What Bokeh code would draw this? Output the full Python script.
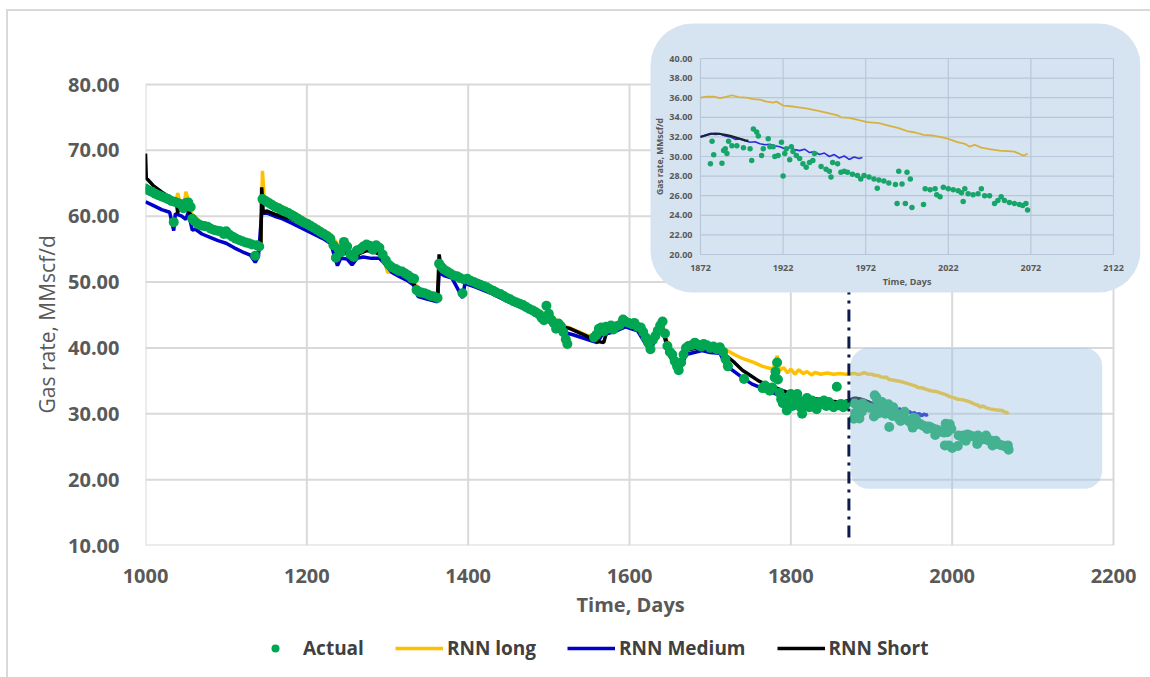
import math
from bokeh.plotting import figure
from bokeh.layouts import column
from bokeh.models import Range1d, FixedTicker, NumeralTickFormatter, Legend, LegendItem, Title
from bokeh.core.properties import value
from bokeh.embed import file_html
from bokeh.resources import INLINE

# ---------------- data ----------------
x_ticks = [1000, 1200, 1400, 1600, 1800, 2000, 2200]
y_ticks = [10, 20, 30, 40, 50, 60, 70, 80]
inset_x_ticks = [1872, 1922, 1972, 2022, 2072, 2122]
inset_y_ticks = [20, 22, 24, 26, 28, 30, 32, 34, 36, 38, 40]
forecast_start = 1872
series_names = ["Actual", "RNN long", "RNN Medium", "RNN Short"]

actual_day_hist = [
    1000, 1004, 1008, 1012, 1016, 1020, 1024, 1028, 1032, 1035, 1036, 1040, 1044, 1047, 1050, 1053, 1056, 1058,
    1061, 1065, 1069, 1073, 1077, 1081, 1085, 1089, 1093, 1097, 1100, 1104, 1108, 1112, 1116, 1120, 1124, 1128,
    1132, 1136, 1138, 1141,
    1145, 1149, 1153, 1157, 1161, 1165, 1169, 1173, 1177, 1181, 1185, 1189, 1193, 1197, 1201, 1205, 1209, 1213,
    1217, 1221, 1225, 1229, 1233, 1236, 1239, 1242, 1246, 1250, 1254, 1258, 1262, 1266, 1270, 1274, 1278, 1282,
    1286, 1290, 1294, 1298, 1302, 1306, 1310, 1314, 1318, 1322, 1326, 1330, 1333, 1336, 1339, 1342, 1346, 1350,
    1354, 1358, 1362,
    1364, 1367, 1370, 1374, 1378, 1382, 1386, 1390, 1393, 1395, 1399, 1403, 1407, 1411, 1415, 1419, 1423, 1427,
    1431, 1435, 1440, 1444, 1448, 1452, 1456, 1460, 1464, 1468, 1472, 1476, 1480, 1484, 1488, 1491, 1494, 1497,
    1500, 1503, 1506, 1509, 1512, 1515, 1518, 1521, 1523,
    1556, 1559, 1562, 1565, 1568, 1571, 1574, 1577, 1580, 1584, 1588, 1592, 1595, 1599, 1603, 1606, 1610, 1614,
    1617, 1620, 1623, 1626, 1629, 1632, 1635, 1638, 1641, 1644, 1647, 1650, 1653, 1656, 1659, 1661, 1664, 1667,
    1670, 1673, 1677, 1681, 1685, 1689, 1692, 1696, 1700, 1704, 1708, 1712, 1716, 1719, 1722,
    1742,
    1765, 1768, 1771, 1774, 1777, 1780, 1781, 1783, 1784, 1786, 1788, 1790, 1792, 1795, 1797, 1800, 1802, 1804,
    1806, 1808, 1810, 1812, 1814, 1816, 1818, 1820, 1823, 1826, 1829, 1832, 1835, 1838, 1841, 1844, 1847, 1850,
    1853, 1857, 1859, 1862, 1865, 1868,
]
actual_rate_hist = [
    64.2, 63.9, 63.7, 63.4, 63.2, 63.0, 62.8, 62.6, 62.3, 59.1, 62.2, 62.0, 61.8, 61.2, 62.0, 62.1, 61.4, 59.6,
    59.2, 58.8, 58.6, 58.5, 58.4, 58.1, 57.9, 57.8, 57.7, 57.3, 57.7, 57.2, 56.9, 56.6, 56.4, 56.2, 56.0, 55.9,
    55.7, 54.0, 55.6, 55.4,
    62.6, 62.3, 62.0, 61.7, 61.4, 61.2, 60.9, 60.7, 60.5, 60.2, 59.9, 59.6, 59.3, 59.0, 58.8, 58.5, 58.2, 57.9,
    57.6, 57.3, 57.0, 56.6, 55.6, 53.7, 55.0, 54.5, 56.1, 55.4, 54.2, 53.8, 54.8, 55.0, 55.4, 55.7, 55.5, 54.9,
    55.6, 55.2, 54.2, 53.3, 52.6, 52.2, 52.0, 51.7, 51.6, 51.3, 51.0, 50.6, 50.5, 48.8, 48.5, 48.4, 48.3, 48.1,
    47.9, 47.8, 47.6,
    52.8, 52.3, 51.9, 51.6, 51.3, 51.0, 50.9, 50.6, 48.3, 50.4, 50.5, 50.2, 50.0, 49.8, 49.6, 49.4, 49.2, 48.9,
    48.7, 48.4, 48.2, 47.9, 47.6, 47.4, 47.1, 46.9, 46.7, 46.5, 46.2, 45.9, 45.7, 45.4, 45.1, 44.6, 44.2, 46.4,
    45.2, 44.3, 43.8, 42.9, 43.7, 43.3, 42.4, 41.3, 40.6,
    41.6, 42.0, 42.9, 43.1, 42.5, 43.2, 43.0, 43.4, 42.8, 43.3, 43.5, 44.3, 44.0, 43.8, 43.6, 43.8, 43.2, 43.1,
    42.4, 41.6, 40.8, 39.8, 41.2, 41.8, 42.6, 43.4, 44.0, 42.2, 40.3, 39.4, 39.0, 38.0, 37.2, 36.6, 37.8, 39.0,
    40.0, 40.3, 40.4, 40.8, 40.5, 40.2, 40.6, 40.4, 40.0, 40.2, 39.8, 40.1, 39.4, 38.3, 37.2,
    35.3,
    33.9, 34.3, 33.8, 33.5, 34.0, 35.5, 36.4, 37.8, 35.2, 33.2, 32.2, 31.6, 32.4, 30.5, 31.8, 33.0, 31.2, 32.8,
    31.5, 33.0, 32.0, 31.0, 30.0, 31.8, 31.2, 32.4, 31.0, 32.0, 31.4, 30.7, 31.8, 31.5, 32.0, 31.2, 31.8, 31.4,
    31.0, 34.1, 31.3, 31.5, 31.0, 31.4,
]
actual_day_fcst = [
    1878, 1879, 1880, 1885, 1886, 1887, 1888, 1889, 1891, 1894, 1898, 1902, 1903, 1904, 1906, 1907, 1909, 1910,
    1913, 1914, 1916, 1917, 1919, 1921, 1922, 1923, 1924, 1926, 1927, 1928, 1930, 1932, 1934, 1936, 1938, 1940,
    1941, 1945, 1948, 1950, 1951, 1952, 1955, 1957, 1959, 1961, 1964, 1967, 1969, 1971, 1974, 1977, 1979, 1980,
    1983, 1986, 1990, 1991, 1992, 1994, 1996, 1997, 1999, 2000, 2007, 2008, 2011, 2014, 2015, 2017, 2019, 2022,
    2025, 2028, 2030, 2031, 2032, 2034, 2037, 2040, 2042, 2044, 2047, 2050, 2052, 2054, 2056, 2059, 2062, 2065,
    2067, 2069, 2070,
]
actual_rate_fcst = [
    29.25, 31.56, 30.17, 29.3, 30.6, 30.8, 30.3, 31.56, 31.1, 31.1, 30.9, 30.8, 29.6, 32.8, 32.5, 32.1, 30.1, 30.8,
    31.8, 31.0, 31.0, 30.0, 30.1, 31.46, 28.0, 30.3, 30.8, 29.66, 31.0, 30.5, 30.1, 29.8, 29.25, 28.9, 29.4, 29.6,
    30.3, 28.98, 28.7, 28.5, 27.9, 29.4, 29.25, 28.4, 28.5, 28.4, 28.2, 28.06, 27.7, 28.06, 27.9, 27.7, 26.77, 27.6,
    27.5, 27.3, 27.14, 25.2, 28.5, 27.2, 25.2, 28.4, 27.7, 24.8, 25.1, 26.7, 26.6, 26.7, 26.1, 25.9, 26.87, 26.7,
    26.6, 26.5, 26.3, 25.4, 26.7, 26.2, 26.1, 26.2, 26.7, 26.0, 26.0, 25.2, 25.5, 25.9, 25.5, 25.3, 25.2, 25.1,
    25.0, 25.2, 24.55,
]

long_day = [
    1000, 1010, 1020, 1030, 1038, 1040, 1043, 1048, 1050, 1054, 1058, 1070, 1090, 1110, 1130, 1143, 1145, 1147,
    1160, 1180, 1200, 1220, 1230, 1240, 1256, 1265, 1280, 1294, 1300, 1315, 1330, 1338, 1362, 1364, 1380, 1400,
    1420, 1440, 1460, 1480, 1500, 1520, 1530, 1550, 1562, 1570, 1590, 1610, 1625, 1640, 1650, 1661, 1670, 1690,
    1710, 1721, 1730, 1740, 1754, 1765, 1771, 1778, 1783, 1786, 1791, 1796, 1800, 1805, 1810, 1815, 1820, 1826,
    1830, 1837, 1845, 1853, 1862, 1868,
    1872, 1876, 1880, 1884, 1888, 1891, 1895, 1900, 1904, 1908, 1912, 1916, 1918, 1922, 1928, 1936, 1942, 1950,
    1955, 1957, 1962, 1968, 1973, 1980, 1987, 1992, 1997, 2002, 2007, 2012, 2017, 2022, 2027, 2032, 2035, 2038,
    2042, 2047, 2053, 2058, 2062, 2066, 2068, 2070,
]
long_rate = [
    64.4, 63.9, 63.2, 62.7, 62.3, 63.5, 62.0, 61.8, 63.7, 62.2, 60.2, 59.0, 58.0, 57.0, 56.0, 55.4, 66.9, 63.0,
    62.0, 60.8, 59.4, 57.9, 57.2, 55.4, 54.0, 55.0, 55.2, 54.3, 51.5, 51.8, 50.9, 48.9, 48.0, 51.8, 51.5, 50.5,
    49.6, 48.4, 47.2, 45.9, 45.0, 43.3, 42.8, 41.8, 42.4, 43.1, 43.8, 43.4, 40.4, 43.8, 39.6, 37.4, 40.0, 40.5,
    40.2, 39.6, 39.0, 38.4, 37.8, 37.2, 37.0, 36.8, 38.8, 36.6, 37.0, 36.2, 36.8, 36.0, 36.7, 36.1, 36.4, 35.9,
    36.3, 36.0, 36.2, 36.0, 36.1, 36.0,
    36.0, 36.1, 36.1, 35.95, 36.1, 36.25, 36.05, 36.0, 35.85, 35.8, 35.6, 35.5, 35.6, 35.2, 35.1, 34.9, 34.7, 34.4,
    34.2, 34.0, 33.95, 33.7, 33.5, 33.4, 33.1, 32.9, 32.6, 32.45, 32.2, 32.15, 32.0, 31.8, 31.5, 31.3, 31.0, 31.2,
    30.9, 30.75, 30.6, 30.55, 30.5, 30.2, 30.1, 30.3,
]

medium_day = [
    1000, 1010, 1020, 1030, 1035, 1037, 1045, 1050, 1053, 1058, 1062, 1070, 1080, 1090, 1100, 1110, 1120, 1130,
    1136, 1140, 1144, 1150, 1160, 1170, 1180, 1190, 1200, 1210, 1220, 1230, 1234, 1238, 1242, 1250, 1256, 1262,
    1270, 1280, 1290, 1298, 1305, 1315, 1325, 1332, 1338, 1350, 1362, 1364, 1370, 1380, 1393, 1396, 1410, 1430,
    1450, 1470, 1490, 1500, 1510, 1520, 1530, 1550, 1560, 1566, 1580, 1595, 1610, 1625, 1640, 1650, 1661, 1670,
    1690, 1700, 1712, 1720, 1730, 1742, 1752, 1762, 1772, 1782, 1792, 1800, 1810, 1820, 1830, 1840, 1850, 1860,
    1866,
    1872, 1875, 1878, 1881, 1884, 1887, 1890, 1893, 1896, 1899, 1902, 1905, 1908, 1911, 1914, 1917, 1920, 1923,
    1926, 1929, 1932, 1935, 1938, 1941, 1944, 1947, 1950, 1953, 1956, 1959, 1962, 1965, 1968, 1970,
]
medium_rate = [
    62.2, 61.6, 61.0, 60.6, 57.8, 60.4, 60.0, 59.5, 60.6, 57.9, 58.0, 57.3, 56.8, 56.3, 55.9, 55.2, 54.6, 54.1,
    53.0, 53.9, 60.4, 60.5, 60.0, 59.6, 59.0, 58.4, 57.8, 57.2, 56.6, 55.8, 54.0, 52.5, 53.6, 53.5, 52.6, 53.6,
    53.8, 53.6, 53.6, 52.6, 51.5, 50.8, 50.2, 49.6, 47.8, 47.4, 47.0, 51.5, 51.0, 50.6, 47.6, 49.8, 49.2, 48.2,
    47.0, 45.9, 44.6, 44.4, 43.0, 42.3, 42.0, 41.2, 40.8, 42.0, 42.4, 43.2, 42.6, 39.6, 43.0, 38.8, 36.2, 39.0,
    39.6, 39.3, 39.2, 37.3, 36.4, 35.3, 34.5, 34.0, 33.5, 33.0, 32.5, 32.0, 31.6, 31.4, 31.2, 31.2, 31.3, 31.6,
    31.8,
    32.0, 32.2, 32.35, 32.25, 32.3, 32.1, 32.0, 31.75, 31.8, 31.6, 31.45, 31.5, 31.3, 31.2, 31.25, 31.1, 31.0, 30.8,
    30.95, 30.7, 30.6, 30.75, 30.4, 30.5, 30.2, 30.35, 30.0, 30.2, 29.85, 30.05, 29.7, 29.95, 29.8, 29.9,
]

short_day = [
    1000, 1001, 1010, 1020, 1030, 1038, 1040, 1042, 1050, 1058, 1070, 1090, 1110, 1130, 1140, 1143, 1144, 1146,
    1150, 1160, 1180, 1200, 1220, 1232, 1240, 1250, 1256, 1265, 1275, 1285, 1294, 1300, 1315, 1330, 1338, 1350,
    1362, 1364, 1367, 1380, 1400, 1420, 1440, 1460, 1480, 1500, 1515, 1525, 1545, 1560, 1568, 1572, 1580, 1595,
    1610, 1625, 1640, 1650, 1661, 1670, 1690, 1710, 1720, 1730, 1740, 1750, 1760, 1770, 1780, 1790, 1800, 1810,
    1815, 1820, 1830, 1840, 1850, 1860, 1866,
    1872, 1875, 1878, 1881, 1884, 1887, 1890, 1893, 1896, 1899, 1901,
]
short_rate = [
    69.5, 65.8, 64.6, 63.7, 62.9, 62.4, 60.5, 62.0, 61.5, 59.8, 58.6, 57.6, 56.6, 55.7, 55.2, 55.0, 64.4, 60.5,
    60.8, 60.3, 59.6, 58.5, 57.3, 56.4, 54.2, 54.4, 53.2, 54.3, 54.8, 54.5, 54.0, 52.5, 51.5, 50.3, 48.5, 48.0,
    47.5, 54.2, 51.8, 51.2, 50.0, 49.2, 48.0, 46.8, 45.5, 44.5, 43.2, 43.0, 41.9, 41.0, 40.8, 42.6, 42.8, 43.8,
    43.0, 40.0, 43.4, 39.2, 37.0, 39.6, 40.2, 39.6, 38.8, 37.8, 36.6, 35.8, 35.0, 34.4, 34.0, 33.5, 33.1, 32.8,
    30.4, 32.6, 32.3, 32.1, 31.9, 31.8, 31.8,
    32.0, 32.15, 32.3, 32.35, 32.3, 32.2, 32.1, 31.95, 31.8, 31.65, 31.6,
]

actual_day = actual_day_hist + actual_day_fcst
actual_rate = actual_rate_hist + actual_rate_fcst


def from_start(days, vals):
    pairs = [(d, v) for d, v in zip(days, vals) if d >= forecast_start]
    return [d for d, _ in pairs], [v for _, v in pairs]


# ---------------- styles ----------------
C_ACT, C_LONG, C_MED, C_SHORT = "#00A651", "#FFC000", "#0000CD", "#000000"
LW = 3.5

# ---------------- layout (canvas pixels) ----------------
W, H = 1142, 622
LEG_H = 44
FL, FR, FT, FB = 137, 1132, 11, 534          # plot frame
MX0, MX1, MY_TOP, MY_BOT = 137, 1105, 73, 534  # main plot area (x 1000..2200, y 80..10)
IL, IR, IT, IB = 692, 1105, 47, 243          # inset plot area
INSET_BOX = (642, 1132, 12, 281)             # left, right, top, bottom (px)
HILITE = dict(left=1874, right=2186, bottom=18.6, top=40.0)
DIVIDER_Y = (11.2, 49.0)
LEGEND_POS = (106, 16)                       # from the (aligned) frame's bottom-left

sx = (MX1 - MX0) / (x_ticks[-1] - x_ticks[0])
x_end = x_ticks[0] + (FR - FL) / sx
sy = (MY_BOT - MY_TOP) / (y_ticks[-1] - y_ticks[0])
y_end = y_ticks[0] + (FB - FT) / sy

isx = (IR - IL) / (inset_x_ticks[-1] - inset_x_ticks[0])
ix_start = inset_x_ticks[0] - (IL - FL) / isx
ix_end = ix_start + (FR - FL) / isx
isy = (IB - IT) / (inset_y_ticks[-1] - inset_y_ticks[0])
iy_start = inset_y_ticks[0] - (FB - IB) / isy
iy_end = iy_start + (FB - FT) / isy


def ipx_x(px):
    return ix_start + (px - FL) / isx


def ipx_y(py):
    return iy_start + (FB - py) / isy


p = figure(width=W, height=H,
           x_range=Range1d(x_ticks[0], x_end), y_range=Range1d(y_ticks[0], y_end),
           output_backend="svg", toolbar_location=None,
           min_border_left=FL, min_border_right=W - FR, min_border_top=FT, min_border_bottom=H - FB)
p.extra_x_ranges = {"ix": Range1d(ix_start, ix_end)}
p.extra_y_ranges = {"iy": Range1d(iy_start, iy_end)}

p.xgrid.visible = False
p.ygrid.visible = False
p.outline_line_color = None
p.background_fill_color = "white"
p.border_fill_color = "white"

p.xaxis.ticker = FixedTicker(ticks=x_ticks)
p.yaxis.ticker = FixedTicker(ticks=y_ticks)
p.yaxis.formatter = NumeralTickFormatter(format="0.00")
for ax in (p.xaxis[0], p.yaxis[0]):
    ax.axis_line_color = None
    ax.major_tick_line_color = None
    ax.minor_tick_line_color = None
    ax.major_label_text_font = "Open Sans"
    ax.major_label_text_font_size = "20px"
    ax.major_label_text_font_style = "bold"
    ax.major_label_text_color = "#595959"
p.xaxis.major_label_standoff = 17
p.yaxis.major_label_standoff = 20

# main grid
p.segment(x0=[x_ticks[0]] * len(y_ticks), x1=[x_ticks[-1]] * len(y_ticks), y0=y_ticks, y1=y_ticks,
          line_color="#D9D9D9", line_width=2)
p.segment(x0=x_ticks, x1=x_ticks, y0=[y_ticks[0]] * len(x_ticks), y1=[y_ticks[-1]] * len(x_ticks),
          line_color="#D9D9D9", line_width=2)

# main series
p.line(long_day, long_rate, line_color=C_LONG, line_width=LW)
p.line(medium_day, medium_rate, line_color=C_MED, line_width=LW)
p.line(short_day, short_rate, line_color=C_SHORT, line_width=LW)
p.scatter(actual_day, actual_rate, size=10, fill_color=C_ACT, line_color=None)

# forecast divider
p.line([forecast_start, forecast_start], list(DIVIDER_Y), line_color="#0D1B4C", line_width=3,
       line_dash="12 6 3 6")

# highlight box
p.quad(left=[HILITE["left"]], right=[HILITE["right"]], bottom=[HILITE["bottom"]], top=[HILITE["top"]],
       fill_color="#9DC3E6", fill_alpha=0.43, line_color=None, border_radius=18)

# ---------------- inset ----------------
IN = dict(x_range_name="ix", y_range_name="iy")
bl, br, bt, bb = INSET_BOX
p.quad(left=[ipx_x(bl)], right=[ipx_x(br)], top=[ipx_y(bt)], bottom=[ipx_y(bb)],
       fill_color="#D6E4F2", line_color=None, border_radius=42, **IN)
p.segment(x0=[inset_x_ticks[0]] * len(inset_y_ticks), x1=[inset_x_ticks[-1]] * len(inset_y_ticks),
          y0=inset_y_ticks, y1=inset_y_ticks, line_color="#B7C7D9", line_width=1.2, **IN)
p.segment(x0=inset_x_ticks, x1=inset_x_ticks, y0=[inset_y_ticks[0]] * len(inset_x_ticks),
          y1=[inset_y_ticks[-1]] * len(inset_x_ticks), line_color="#B7C7D9", line_width=1.2, **IN)

d, v = from_start(long_day, long_rate)
p.line(d, v, line_color="#D6B13F", line_width=1.8, **IN)
d, v = from_start(medium_day, medium_rate)
p.line(d, v, line_color="#2E2ED8", line_width=1.6, **IN)
d, v = from_start(short_day, short_rate)
p.line(d, v, line_color="#1A2238", line_width=2.2, **IN)
d, v = from_start(actual_day, actual_rate)
p.scatter(d, v, size=5.5, fill_color="#17A56A", line_color=None, **IN)

p.text(x=[inset_x_ticks[0]] * len(inset_y_ticks), y=inset_y_ticks,
       text=[f"{t:.2f}" for t in inset_y_ticks], x_offset=-8, text_align="right", text_baseline="middle",
       text_font=value("Open Sans"), text_font_size=value("9px"), text_font_style="bold",
       text_color="#595959", **IN)
p.text(x=inset_x_ticks, y=[inset_y_ticks[0]] * len(inset_x_ticks), text=[str(t) for t in inset_x_ticks],
       y_offset=13, text_align="center", text_baseline="middle",
       text_font=value("Open Sans"), text_font_size=value("9px"), text_font_style="bold",
       text_color="#595959", **IN)
p.text(x=[(inset_x_ticks[0] + inset_x_ticks[-1]) / 2], y=[inset_y_ticks[0]], text=["Time, Days"],
       y_offset=27, text_align="center", text_baseline="middle",
       text_font=value("Open Sans"), text_font_size=value("9px"), text_font_style="bold",
       text_color="#595959", **IN)
p.text(x=[inset_x_ticks[0]], y=[(inset_y_ticks[0] + inset_y_ticks[-1]) / 2], text=["Gas rate, MMscf/d"],
       x_offset=-41, angle=math.pi / 2, text_align="center", text_baseline="middle",
       text_font=value("Open Sans"), text_font_size=value("8.5px"), text_font_style="bold",
       text_color="#595959", **IN)

# ---------------- axis titles ----------------
ytitle = Title(text="Gas rate, MMscf/d", align="left", offset=132, vertical_align="top", standoff=5,
               text_font="Open Sans", text_font_size="21px", text_font_style="normal", text_color="#595959")
p.add_layout(ytitle, "left")
xtitle = Title(text="Time, Days", align="left", offset=431, vertical_align="top", standoff=10,
               text_font="Open Sans", text_font_size="20px", text_font_style="bold", text_color="#595959")
p.add_layout(xtitle, "below")

# ---------------- legend strip ----------------
# the same series drawn with identical styles into an empty viewport (nothing visible) so the
# legend below the chart can show their glyph samples
pl = figure(width=W, height=LEG_H, x_range=Range1d(0, 1), y_range=Range1d(0, 1),
            output_backend="svg", toolbar_location=None, min_border=0,
            x_axis_location=None, y_axis_location=None)
pl.grid.visible = False
pl.outline_line_color = None
pl.border_fill_color = "white"
g_act = pl.scatter(actual_day, actual_rate, size=8, fill_color=C_ACT, line_color=None)
g_long = pl.line(long_day, long_rate, line_color=C_LONG, line_width=LW)
g_med = pl.line(medium_day, medium_rate, line_color=C_MED, line_width=LW)
g_short = pl.line(short_day, short_rate, line_color=C_SHORT, line_width=LW)
legend = Legend(items=[LegendItem(label=n, renderers=[r])
                       for n, r in zip(series_names, [g_act, g_long, g_med, g_short])],
                orientation="horizontal", location=LEGEND_POS, glyph_width=48, glyph_height=20,
                label_standoff=4, spacing=31, padding=0, margin=0,
                label_text_font="Open Sans", label_text_font_size="19px", label_text_font_style="bold",
                label_text_color="#404040", border_line_color=None, background_fill_alpha=0)
pl.add_layout(legend, "center")

page = column(p, pl, spacing=0,
              styles={"margin-left": "6px", "margin-top": "9px",
                      "border-left": "2px solid #D9D9D9", "border-top": "2px solid #D9D9D9"})

open("out.html", "w").write(file_html(page, INLINE))
